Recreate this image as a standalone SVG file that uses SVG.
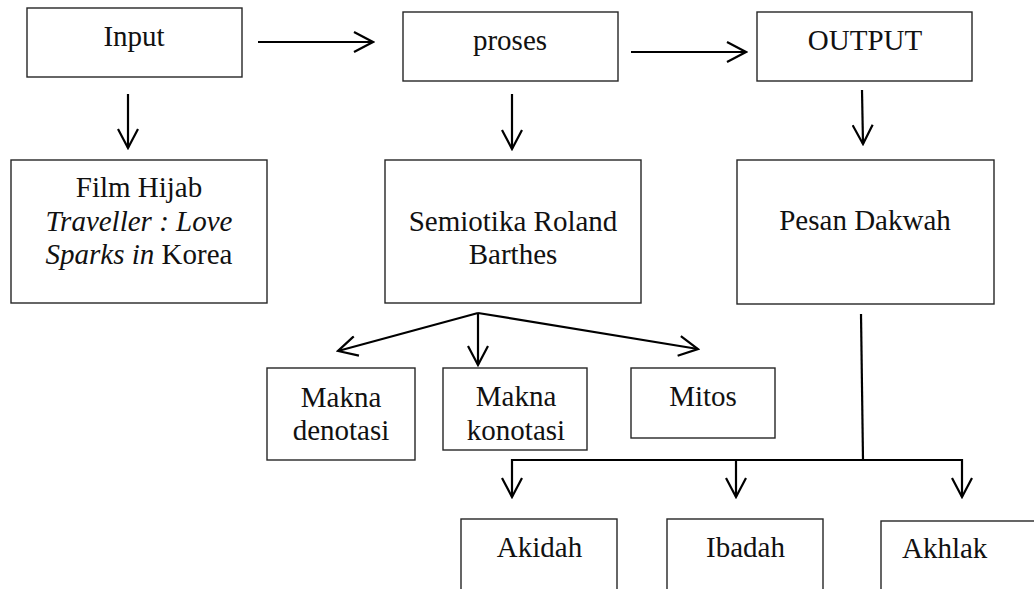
<svg xmlns="http://www.w3.org/2000/svg" width="1034" height="589" viewBox="0 0 1034 589">
<style>
.box{fill:#fff;stroke:#262626;stroke-width:1.4}
.t{font-family:"Liberation Serif","Times New Roman",serif;font-size:29px;fill:#111}
.c{text-anchor:middle}
.i{font-style:italic}
.con{fill:none;stroke:#000;stroke-width:2.2}
</style>
<defs>
<marker id="ah" markerUnits="userSpaceOnUse" markerWidth="22" markerHeight="22" viewBox="0 0 22 22" refX="20" refY="11" orient="auto-start-reverse">
<path d="M1,1 L20,11 L1,21" fill="none" stroke="#000" stroke-width="2.2"/>
</marker>
</defs>
<rect width="1034" height="589" fill="#fff"/>
<g id="input"><rect class="box" x="27" y="8" width="215" height="69"/><text class="t c" x="134" y="46">Input</text></g>
<g id="proses"><rect class="box" x="403" y="12" width="215" height="69"/><text class="t c" x="510" y="50">proses</text></g>
<g id="output"><rect class="box" x="757" y="12" width="215" height="69"/><text class="t c" x="865" y="50">OUTPUT</text></g>
<g id="film"><rect class="box" x="11" y="160" width="256" height="143"/>
<text class="t c" x="139" y="197">Film Hijab</text>
<text class="t c i" x="139" y="231">Traveller : Love</text>
<text class="t c" x="139" y="264"><tspan class="i">Sparks in</tspan> Korea</text></g>
<g id="semiotika"><rect class="box" x="385" y="160" width="256" height="143"/>
<text class="t c" x="513" y="231">Semiotika Roland</text>
<text class="t c" x="513" y="264">Barthes</text></g>
<g id="pesan"><rect class="box" x="737" y="160" width="257" height="144"/><text class="t c" x="865" y="230">Pesan Dakwah</text></g>
<g id="denotasi"><rect class="box" x="267" y="368" width="148" height="92"/>
<text class="t c" x="341" y="407">Makna</text><text class="t c" x="341" y="440">denotasi</text></g>
<g id="konotasi"><rect class="box" x="443" y="368" width="144" height="82"/>
<text class="t c" x="516" y="406">Makna</text><text class="t c" x="516" y="440">konotasi</text></g>
<g id="mitos"><rect class="box" x="631" y="368" width="144" height="70"/><text class="t c" x="703" y="406">Mitos</text></g>
<g id="akidah"><rect class="box" x="461" y="519" width="156" height="90"/><text class="t c" x="539.5" y="557">Akidah</text></g>
<g id="ibadah"><rect class="box" x="667" y="519" width="156" height="90"/><text class="t c" x="745.5" y="557">Ibadah</text></g>
<g id="akhlak"><rect class="box" x="881" y="521" width="170" height="90"/><text class="t" x="902" y="558">Akhlak</text></g>
<g id="connectors">
<line class="con" x1="258" y1="42" x2="373" y2="42" marker-end="url(#ah)"/>
<line class="con" x1="631" y1="52" x2="746" y2="52" marker-end="url(#ah)"/>
<line class="con" x1="128" y1="94" x2="128" y2="148" marker-end="url(#ah)"/>
<line class="con" x1="512" y1="94" x2="512" y2="149" marker-end="url(#ah)"/>
<line class="con" x1="862" y1="90" x2="863" y2="144" marker-end="url(#ah)"/>
<line class="con" x1="478" y1="313" x2="338" y2="351" marker-end="url(#ah)"/>
<line class="con" x1="478" y1="313" x2="478" y2="365" marker-end="url(#ah)"/>
<line class="con" x1="478" y1="313" x2="698" y2="349" marker-end="url(#ah)"/>
<line class="con" x1="861" y1="314" x2="863" y2="460"/>
<path class="con" d="M512,497 V460 H962 V497" marker-start="url(#ah)" marker-end="url(#ah)"/>
<line class="con" x1="736" y1="460" x2="736" y2="497" marker-end="url(#ah)"/>
</g>
</svg>
